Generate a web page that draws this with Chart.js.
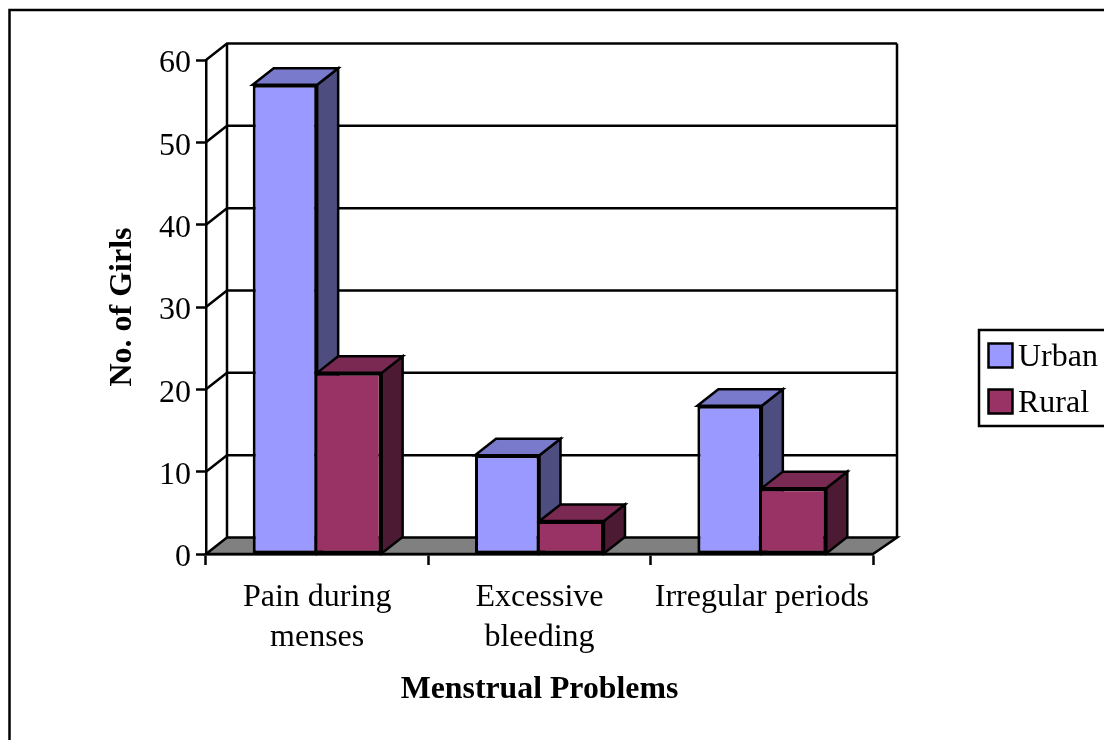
<!DOCTYPE html>
<html>
<head>
<meta charset="utf-8">
<style>
	html, body { margin: 0; padding: 0; background: #fff; overflow: hidden; }
	canvas { display: block; }
</style>
<script src="https://cdn.jsdelivr.net/npm/chart.js@4"></script>
</head>
<body>
<canvas id="myChart" width="1104" height="740"></canvas>
<script>
const categories = [["Pain during", "menses"], ["Excessive", "bleeding"], "Irregular periods"];
const urban = [57, 12, 18];
const rural = [22, 4, 8];
const seriesNames = ["Urban", "Rural"];
const frontColors = ["#9999ff", "#993366"];
const topColors = ["#7a7acc", "#7a2952"];
const sideColors = ["#4d4d80", "#4d1a33"];
const gridValues = [10, 20, 30, 40, 50, 60];

const serif = "'Liberation Serif', 'Times New Roman', serif";
const depthX = 21;
const depthY = -16.5;
const lineW = 2.5;

function poly(c, pts, fill) {
	c.beginPath();
	pts.forEach(function (p, i) {
		if (i === 0) c.moveTo(p[0], p[1]);
		else c.lineTo(p[0], p[1]);
	});
	c.closePath();
	if (fill) {
		c.fillStyle = fill;
		c.fill();
	}
	c.stroke();
}

// back wall, floor and the 3d faces of the bars
const box3d = {
	id: "box3d",
	beforeDraw(chart) {
		const c = chart.ctx;
		c.save();
		c.strokeStyle = "#000";
		c.lineWidth = 2.5;
		c.beginPath();
		c.moveTo(9.5, 740);
		c.lineTo(9.5, 10);
		c.lineTo(1104, 10);
		c.stroke();
		c.restore();
	},
	beforeDatasetsDraw(chart) {
		const c = chart.ctx;
		const x = chart.scales.x;
		const y = chart.scales.y;
		const base = y.getPixelForValue(0);
		const backLeft = x.left + depthX;
		const backRight = x.right + depthX + 3;
		c.save();
		c.strokeStyle = "#000";
		c.lineWidth = lineW;
		c.lineJoin = "miter";

		poly(c, [[x.left, base], [backLeft, base + depthY], [backRight, base + depthY], [x.right, base]], "#808080");

		gridValues.forEach(function (v) {
			const py = y.getPixelForValue(v);
			c.beginPath();
			c.moveTo(x.left, py);
			c.lineTo(backLeft, py + depthY);
			c.lineTo(backRight, py + depthY);
			c.stroke();
		});

		c.beginPath();
		c.moveTo(backLeft, y.top + depthY);
		c.lineTo(backLeft, base + depthY);
		c.moveTo(backRight, y.top + depthY);
		c.lineTo(backRight, base + depthY);
		c.stroke();

		// each group from left to right so the rural top covers the urban side
		categories.forEach(function (cat, j) {
			seriesNames.forEach(function (name, i) {
				const bar = chart.getDatasetMeta(i).data[j];
				const l = bar.x - bar.width / 2;
				const r = bar.x + bar.width / 2;
				poly(c, [[r, bar.y], [r + depthX, bar.y + depthY], [r + depthX, bar.base + depthY], [r, bar.base]], sideColors[i]);
				poly(c, [[l, bar.y], [l + depthX, bar.y + depthY], [r + depthX, bar.y + depthY], [r, bar.y]], topColors[i]);
			});
		});
		c.restore();
	},
	afterDraw(chart) {
		const c = chart.ctx;
		c.save();
		c.strokeStyle = "#000";
		c.lineWidth = lineW;
		c.beginPath();
		c.moveTo(1104, 330);
		c.lineTo(979, 330);
		c.lineTo(979, 426);
		c.lineTo(1104, 426);
		c.stroke();
		c.font = "32px " + serif;
		c.textBaseline = "middle";
		chart.data.datasets.forEach(function (ds, i) {
			const cy = 355.5 + i * 46;
			c.fillStyle = ds.backgroundColor;
			c.fillRect(988.5, cy - 12, 24, 24);
			c.strokeRect(988.5, cy - 12, 24, 24);
			c.fillStyle = "#000";
			c.fillText(ds.label, 1018, cy + 2);
		});
		c.restore();
	},
};

const myChart = new Chart(document.getElementById("myChart"), {
	type: "bar",
	data: {
		labels: categories,
		datasets: [
			{
				label: seriesNames[0],
				data: urban,
				backgroundColor: frontColors[0],
				borderWidth: { top: 3, right: 3, bottom: 3, left: 3 },
			},
			{
				// no left edge, the urban bar's right edge is the shared line
				label: seriesNames[1],
				data: rural,
				backgroundColor: frontColors[1],
				borderWidth: { top: 3, right: 3, bottom: 3, left: 0 },
			},
		],
	},
	plugins: [box3d],
	options: {
		responsive: false,
		animation: false,
		layout: { padding: { top: 60, right: 231, bottom: 0, left: 0 } },
		datasets: {
			bar: {
				barPercentage: 1,
				categoryPercentage: 0.58,
				borderColor: "#000",
				borderSkipped: false,
			},
		},
		plugins: {
			legend: { display: false },
			tooltip: { enabled: false },
		},
		scales: {
			x: {
				afterFit(scale) {
					scale.height = 186;
				},
				border: { display: true, color: "#000", width: lineW },
				grid: { drawOnChartArea: false, drawTicks: true, tickLength: 11, tickColor: "#000", tickWidth: lineW },
				ticks: {
					color: "#000",
					padding: 13,
					maxRotation: 0,
					font: { family: serif, size: 32, lineHeight: 1.25 },
				},
				title: {
					display: true,
					text: "Menstrual Problems",
					color: "#000",
					font: { family: serif, size: 31.8, weight: "bold" },
					padding: { top: 0, bottom: 31 },
				},
			},
			y: {
				min: 0,
				max: 60,
				afterFit(scale) {
					scale.width = 206;
				},
				border: { display: true, color: "#000", width: lineW },
				grid: { drawOnChartArea: false, drawTicks: true, tickLength: 10, tickColor: "#000", tickWidth: lineW },
				ticks: {
					stepSize: 10,
					color: "#000",
					padding: 5,
					// blank first line pushes the digits down to sit level with the ticks
					callback: function (v) {
						return ["", String(v)];
					},
					font: { family: serif, size: 32, lineHeight: 0.25 },
				},
				title: {
					display: true,
					text: "No. of Girls",
					color: "#000",
					font: { family: serif, size: 32, weight: "bold" },
					padding: { top: 104, bottom: 0 },
				},
			},
		},
	},
});
</script>
</body>
</html>
